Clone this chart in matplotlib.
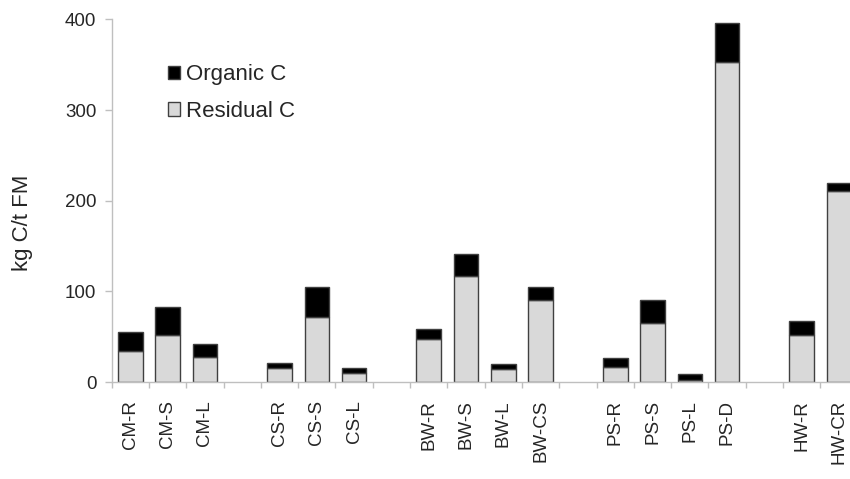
import numpy as np
import matplotlib
matplotlib.use("Agg")
import matplotlib.pyplot as plt
from matplotlib.patches import Patch

plt.rcParams['font.family'] = ['Liberation Sans', 'DejaVu Sans']

categories = ['CM-R', 'CM-S', 'CM-L',
              'CS-R', 'CS-S', 'CS-L',
              'BW-R', 'BW-S', 'BW-L', 'BW-CS',
              'PS-R', 'PS-S', 'PS-L', 'PS-D',
              'HW-R', 'HW-CR']
group_sizes = [3, 3, 4, 4, 2]
residual_c = [34, 52, 28, 15, 72, 10, 47, 117, 14, 91, 17, 65, 2, 353, 52, 211]
organic_c = [21, 31, 14, 6, 33, 5, 12, 24, 6, 14, 10, 26, 7, 43, 15, 9]

# one empty slot between groups
group_idx = np.repeat(np.arange(len(group_sizes)), group_sizes)
pos = np.arange(len(categories)) + group_idx
n_slots = pos[-1] + 1

grey = '#bfbfbf'
edge = '#404040'
txt = '#262626'

fig = plt.figure(figsize=(8.5, 4.79), dpi=100)
ax = fig.add_axes([0.1314, 0.2025, 0.8776, 0.757])

ax.bar(pos, residual_c, width=0.66, color='#d9d9d9', edgecolor=edge, linewidth=1.0)
ax.bar(pos, organic_c, width=0.66, bottom=residual_c, color='black', edgecolor=edge, linewidth=1.0)

ax.set_xlim(-0.5, n_slots - 0.5)
ax.set_ylim(0, 400)
ax.set_yticks([0, 100, 200, 300, 400])

ax.set_xticks(pos)
ax.set_xticklabels(categories, rotation=90, fontsize=13.5, color=txt)
ax.set_xticks(np.arange(n_slots + 1) - 0.5, minor=True)
ax.tick_params(axis='x', which='major', length=0, pad=13)
ax.tick_params(axis='x', which='minor', length=4, width=1, color=grey, direction='out')
ax.tick_params(axis='y', length=5, width=1, color=grey, labelsize=13.5, labelcolor=txt, pad=6)

for s in ['top', 'right']:
    ax.spines[s].set_visible(False)
for s in ['left', 'bottom']:
    ax.spines[s].set_color(grey)
    ax.spines[s].set_linewidth(1.0)

ax.set_ylabel('kg C/t FM', fontsize=16, color=txt)
ax.yaxis.set_label_coords(-0.105, 0.44)

handles = [Patch(facecolor='black', edgecolor=edge, label='Organic C'),
           Patch(facecolor='#d9d9d9', edgecolor=edge, label='Residual C')]
fig.legend(handles=handles, loc='upper left', bbox_to_anchor=(0.1976, 0.866),
           frameon=False, fontsize=16, handlelength=0.55, handleheight=0.55,
           handletextpad=0.25, labelspacing=0.7, borderpad=0, borderaxespad=0,
           labelcolor=txt)

fig.savefig('out.png', dpi=100)
